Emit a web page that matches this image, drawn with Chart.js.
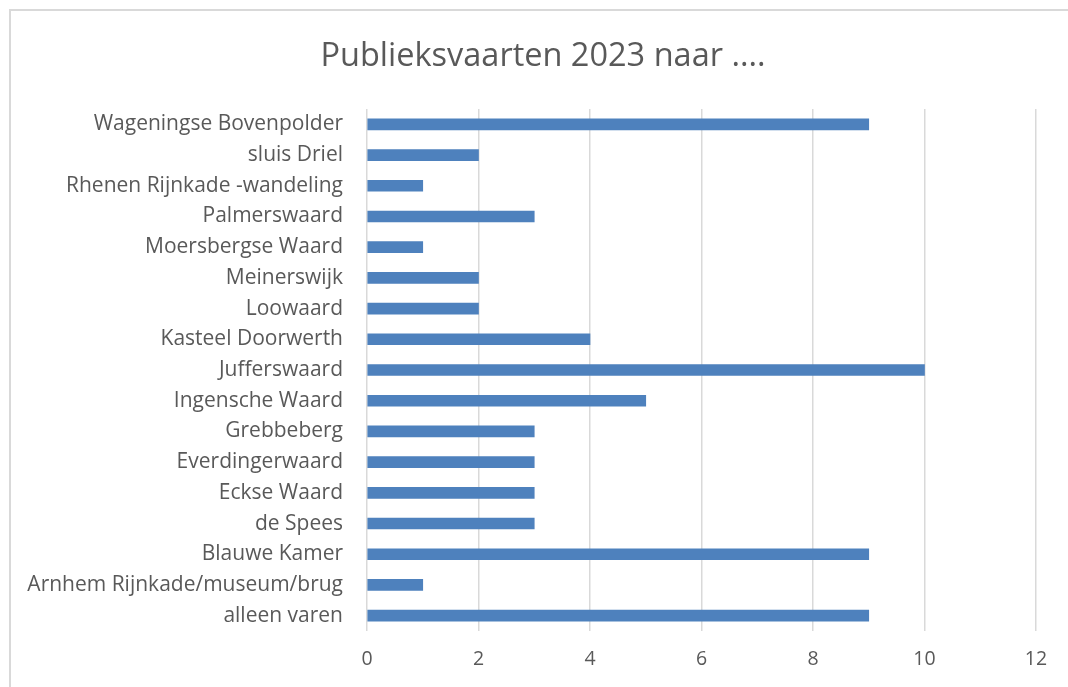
<!DOCTYPE html>
<html>
<head>
<meta charset="utf-8">
<script src="https://cdn.jsdelivr.net/npm/chart.js@4"></script>
<style>
  body { margin: 0; background: #fff; overflow: hidden; }
  #frame { position: absolute; left: 9px; top: 9px; width: 1100px; height: 700px; border: 2px solid #d9d9d9; }
  #holder { position: absolute; left: 0; top: 0; width: 1068px; height: 687px; }
</style>
</head>
<body>
<div id="frame"></div>
<div id="holder"><canvas id="vaartChart"></canvas></div>
<script>
    // locaties, van boven naar beneden
    const locaties = [
        'Wageningse Bovenpolder', 'sluis Driel', 'Rhenen Rijnkade -wandeling', 'Palmerswaard',
        'Moersbergse Waard', 'Meinerswijk', 'Loowaard', 'Kasteel Doorwerth', 'Jufferswaard',
        'Ingensche Waard', 'Grebbeberg', 'Everdingerwaard', 'Eckse Waard', 'de Spees',
        'Blauwe Kamer', 'Arnhem Rijnkade/museum/brug', 'alleen varen'
    ];
    const aantallen = [9, 2, 1, 3, 1, 2, 2, 4, 10, 5, 3, 3, 3, 3, 9, 1, 9];
    const xMin = 0, xMax = 12, xStap = 2;

    const grijs = '#595959';
    const lettertype = '"Open Sans", Lato, sans-serif';

    // titel iets naar rechts, zoals in Excel (gecentreerd op de hele kaderbreedte)
    const titelVerschuiving = {
        id: 'titelVerschuiving',
        afterLayout(chart) {
            const t = chart.titleBlock;
            if (t) { t.left += 20; t.right += 20; }
        }
    };

    const ctx = document.getElementById('vaartChart').getContext('2d');
    new Chart(ctx, {
        type: 'bar',
        data: {
            labels: locaties,
            datasets: [{
                label: 'Publieksvaarten',
                data: aantallen,
                backgroundColor: '#4e81bd',
                barThickness: 11
            }]
        },
        options: {
            indexAxis: 'y',
            responsive: true,
            maintainAspectRatio: false,
            animation: false,
            layout: { padding: { left: 10, right: 32, top: 0, bottom: 0 } },
            scales: {
                x: {
                    min: xMin,
                    max: xMax,
                    ticks: {
                        stepSize: xStap,
                        color: grijs,
                        font: { family: lettertype, size: 19.5 },
                        padding: 17
                    },
                    grid: { color: '#d9d9d9', lineWidth: 1.5, drawTicks: false },
                    border: { display: false },
                    afterFit: (s) => { s.height = 56; }
                },
                y: {
                    ticks: {
                        color: grijs,
                        font: { family: lettertype, size: 21 },
                        padding: 16,
                        autoSkip: false
                    },
                    grid: { display: false },
                    border: { display: false },
                    afterFit: (s) => { s.width = 357; }
                }
            },
            plugins: {
                legend: { display: false },
                tooltip: { enabled: false },
                title: {
                    display: true,
                    text: 'Publieksvaarten 2023 naar ....',
                    color: grijs,
                    font: { family: lettertype, size: 32.5, weight: 'normal' },
                    padding: { top: 37, bottom: 33 }
                }
            }
        },
        plugins: [titelVerschuiving]
    });
</script>
</body>
</html>
